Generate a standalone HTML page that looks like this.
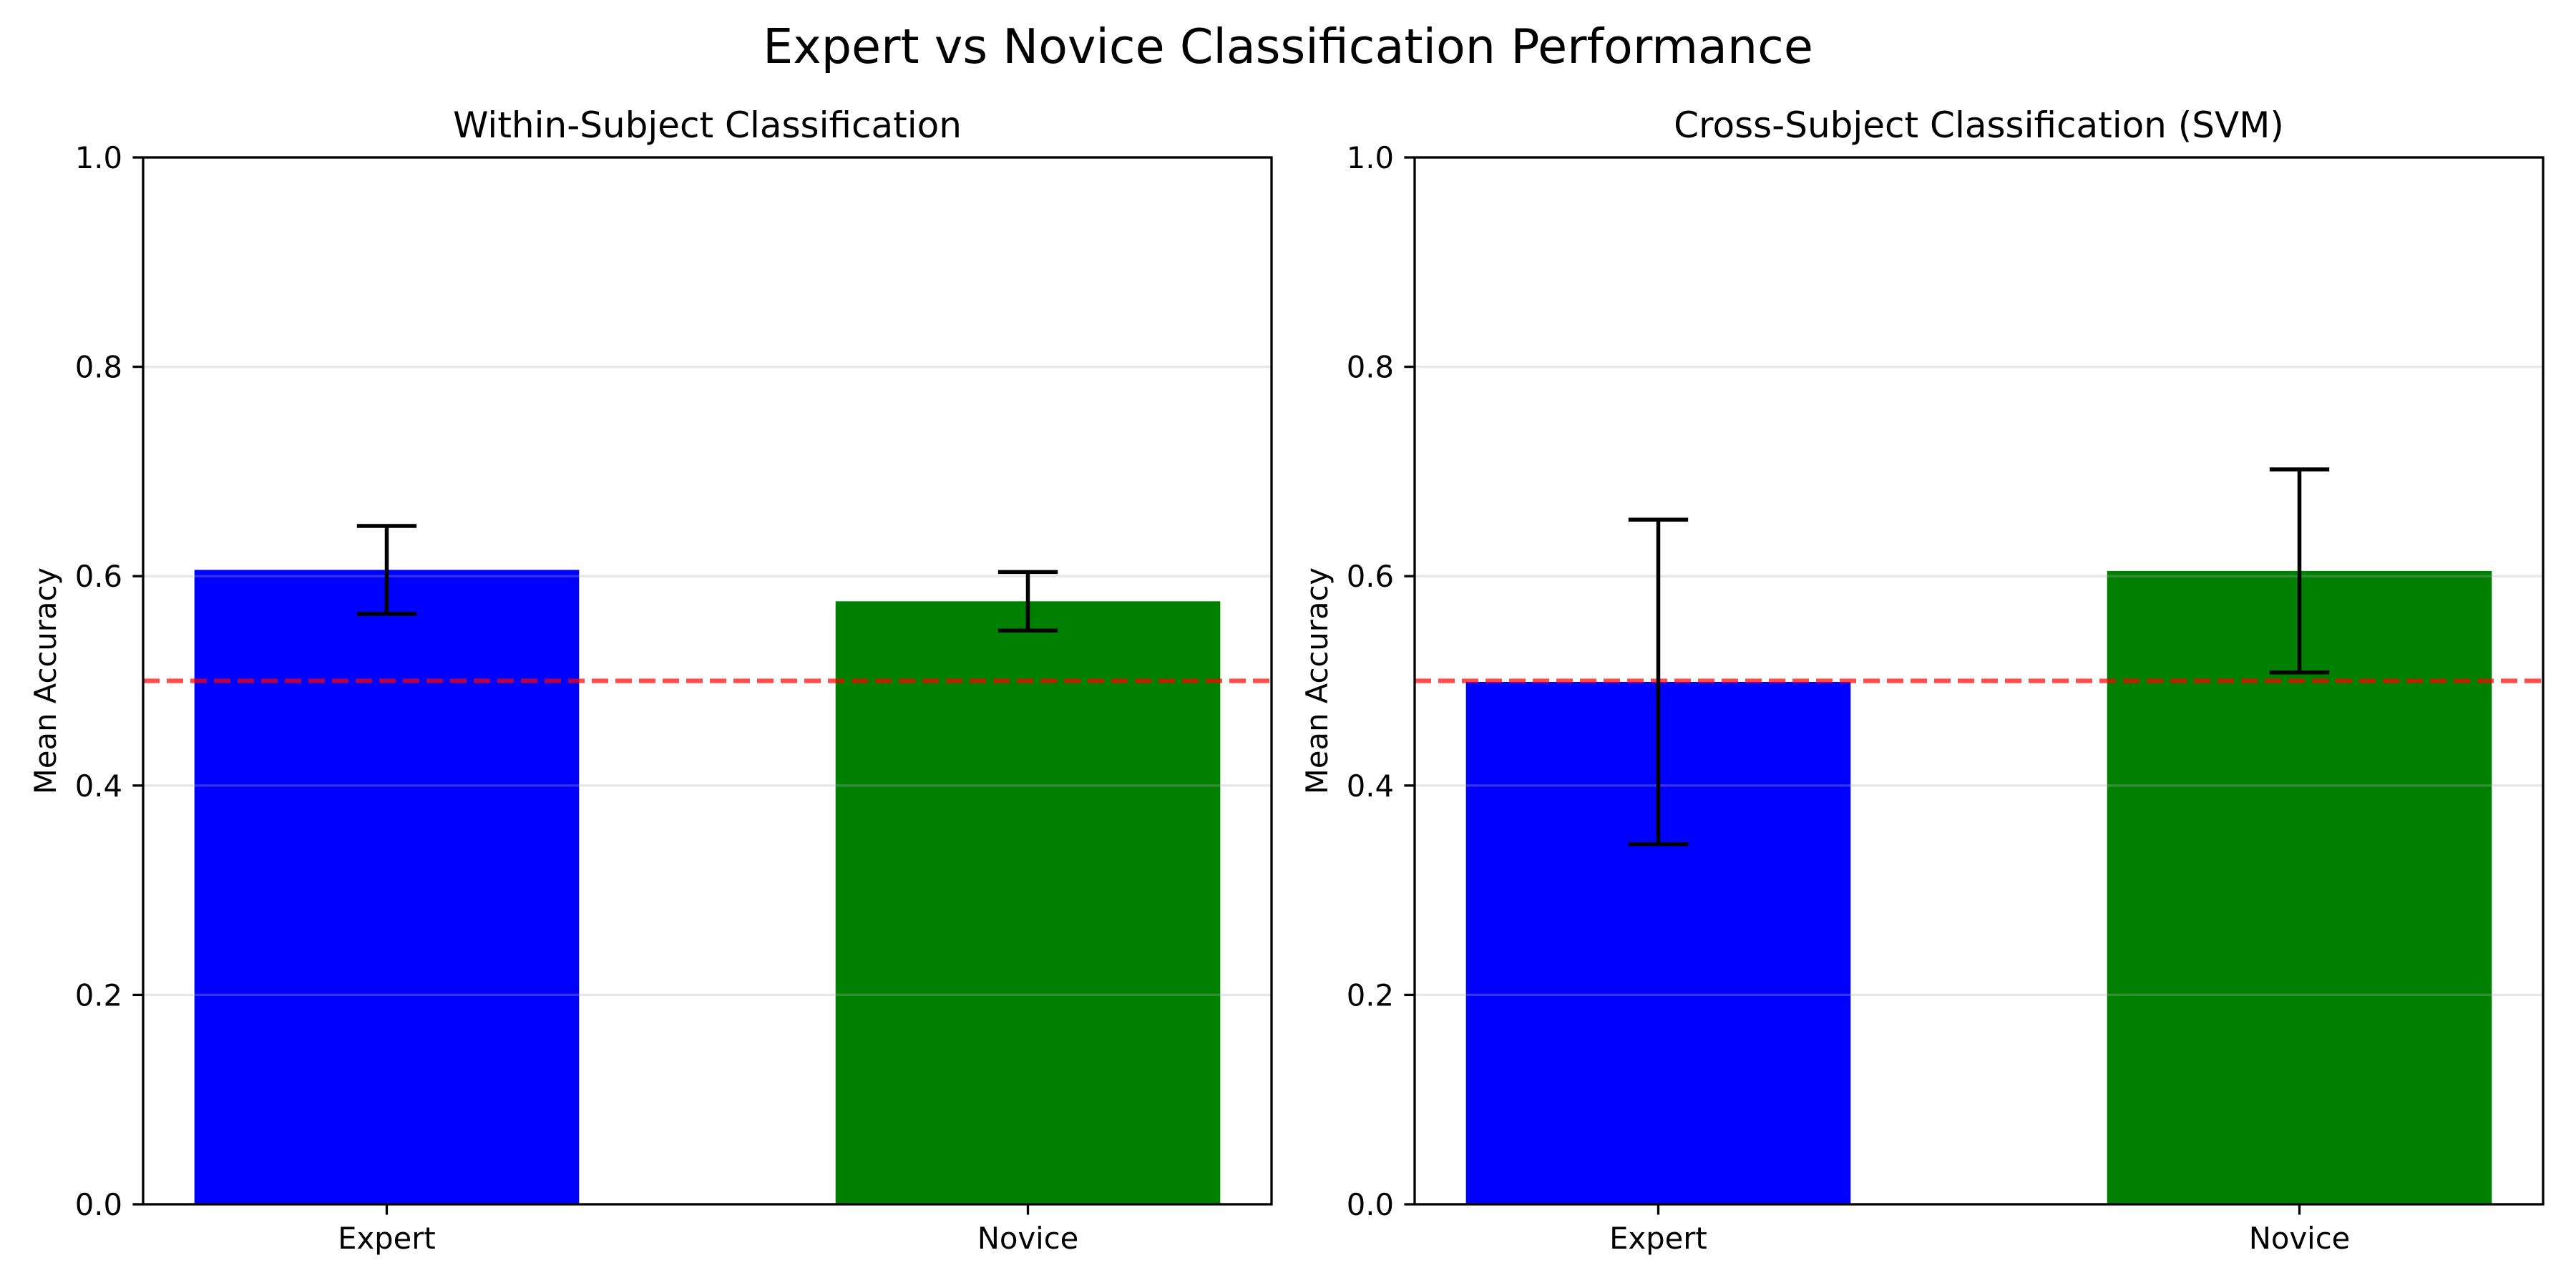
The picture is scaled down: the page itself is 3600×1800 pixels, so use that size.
<!DOCTYPE html>
<html><head><meta charset="utf-8"><style>
html,body{margin:0;padding:0;background:#fff;}
svg{display:block;font-family:"DejaVu Sans","Liberation Sans",sans-serif;}
</style></head><body>
<svg id="fig" width="3600" height="1800" viewBox="0 0 3600 1800">
<rect width="3600" height="1800" fill="#fff"/>
<text x="1800" y="88" text-anchor="middle" font-size="66.7">Expert vs Novice Classification Performance</text>
</svg>
<script>
const categories = ["Expert", "Novice"];
const withinMeans = [0.606, 0.576];
const withinErrs = [0.042, 0.028];
const crossMeans = [0.499, 0.605];
const crossErrs = [0.155, 0.097];
const yTicks = [0.0, 0.2, 0.4, 0.6, 0.8, 1.0];
const yTickLabels = ["0.0", "0.2", "0.4", "0.6", "0.8", "1.0"];
const chanceLevel = [0.5];
const panelTitles = ["Within-Subject Classification", "Cross-Subject Classification (SVM)"];
const barColors = ["#0000ff", "#008000"];

const NS = "http://www.w3.org/2000/svg";
const svg = document.getElementById("fig");
function mk(tag, attrs, parent) {
  const e = document.createElementNS(NS, tag);
  for (const k in attrs) e.setAttribute(k, attrs[k]);
  (parent || svg).appendChild(e);
  return e;
}

function panel(idx, left, right, means, errs) {
  const top = 220, bottom = 1683;
  const g = mk("g", {});
  
  
  const xmin = -0.38, xmax = 1.38;
  const xs = v => left + (v - xmin) / (xmax - xmin) * (right - left);
  const ys = v => bottom - v * (bottom - top);
  const bw = 0.6;
  means.forEach((m, i) => {
    const r = mk("rect", {x: xs(i - bw / 2), y: ys(m), width: xs(i + bw / 2) - xs(i - bw / 2), height: ys(0) - ys(m), fill: barColors[i]}, g);
    
    
  });
  yTicks.forEach((t, i) => {
    const l = mk("line", {x1: left, x2: right, y1: ys(t), y2: ys(t), stroke: "#b0b0b0", "stroke-opacity": 0.3, "stroke-width": 3.3}, g);
    
    
  });
  chanceLevel.forEach(c => {
    const l = mk("line", {x1: left, x2: right, y1: ys(c), y2: ys(c), stroke: "#ff0000", "stroke-opacity": 0.7, "stroke-width": 6.25, "stroke-dasharray": "23 10"}, g);
    
    
  });
  means.forEach((m, i) => {
    const eg = mk("g", {stroke: "#000", "stroke-width": 5.5}, g);
    
    
    const cx = xs(i), cap = 41.7;
    mk("line", {x1: cx, x2: cx, y1: ys(m - errs[i]), y2: ys(m + errs[i])}, eg);
    mk("line", {x1: cx - cap, x2: cx + cap, y1: ys(m - errs[i]), y2: ys(m - errs[i])}, eg);
    mk("line", {x1: cx - cap, x2: cx + cap, y1: ys(m + errs[i]), y2: ys(m + errs[i])}, eg);
  });
  const sp = mk("rect", {x: left, y: top, width: right - left, height: bottom - top, fill: "none", stroke: "#000", "stroke-width": 3.3}, g);
  
  
  yTicks.forEach((t, i) => {
    mk("line", {x1: left - 14.6, x2: left, y1: ys(t), y2: ys(t), stroke: "#000", "stroke-width": 3.3}, g);
    const tx = mk("text", {x: left - 29, y: ys(t) + 15, "text-anchor": "end", "font-size": 41.7}, g);
    tx.textContent = yTickLabels[i];
    
    
  });
  categories.forEach((c, i) => {
    mk("line", {x1: xs(i), x2: xs(i), y1: bottom, y2: bottom + 14.6, stroke: "#000", "stroke-width": 3.3}, g);
    const tx = mk("text", {x: xs(i), y: bottom + 62, "text-anchor": "middle", "font-size": 41.7}, g);
    tx.textContent = c;
    
    
  });
  const yl = mk("text", {x: 0, y: 0, "text-anchor": "middle", "font-size": 41.7, transform: `translate(${left - 122},${(top + bottom) / 2}) rotate(-90)`}, g);
  yl.textContent = "Mean Accuracy";
  
  
  const tt = mk("text", {x: (left + right) / 2, y: 192, "text-anchor": "middle", "font-size": 50}, g);
  tt.textContent = panelTitles[idx];
  
  
}

panel(0, 200, 1777, withinMeans, withinErrs);
panel(1, 1977, 3554, crossMeans, crossErrs);
</script>
</body></html>
